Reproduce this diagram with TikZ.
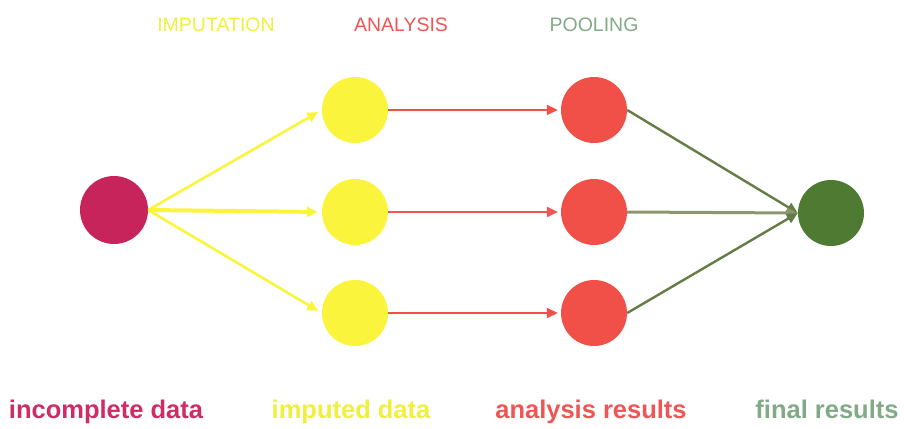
\documentclass[tikz,border=0pt]{standalone}
\usepackage{fontspec}
\setmainfont{Liberation Sans}
\usetikzlibrary{arrows.meta}
\definecolor{cinc}{RGB}{200,36,92}
\definecolor{cyel}{RGB}{250,245,60}
\definecolor{cred}{RGB}{240,80,72}
\definecolor{cgrn}{RGB}{78,122,50}
\definecolor{tinc}{RGB}{205,45,100}
\definecolor{tyel}{RGB}{240,240,60}
\definecolor{tred}{RGB}{240,85,85}
\definecolor{tgrn}{RGB}{130,170,135}
\definecolor{lgrn}{RGB}{100,125,70}
\definecolor{mgrn}{RGB}{140,150,110}
\begin{document}
\begin{tikzpicture}[x=1pt,y=-1pt,
  dot/.style={circle,minimum size=66pt,inner sep=0pt,draw=none},
  toplab/.style={font=\fontsize{19.5}{22}\selectfont,anchor=center},
  botlab/.style={font=\bfseries\fontsize{25.5}{28}\selectfont,anchor=base},
  tip/.style={-{Triangle[length=11pt,width=10pt]}},
  yarr/.style={tip,draw=cyel,line width=2.6pt,shorten >=4pt},
  rarr/.style={tip,draw=cred,line width=2pt,shorten >=3pt},
  garr/.style={tip,draw=lgrn,line width=2.4pt}]
\useasboundingbox (0,0) rectangle (904,428);
\node[dot,fill=cinc,minimum size=68pt] (inc) at (114,210) {};
\node[dot,fill=cyel] (y1) at (355,110) {};
\node[dot,fill=cyel] (y2) at (355,212) {};
\node[dot,fill=cyel] (y3) at (355,313) {};
\node[dot,fill=cred] (r1) at (594,110) {};
\node[dot,fill=cred] (r2) at (594,212) {};
\node[dot,fill=cred] (r3) at (594,313) {};
\node[dot,fill=cgrn] (fin) at (831,213) {};
\draw[yarr] (inc.east) -- (y1.west);
\draw[yarr,line width=4pt] (inc.east) -- (y2.west);
\draw[yarr] (inc.east) -- (y3.west);
\draw[rarr] (y1.east) -- (r1.west);
\draw[rarr,draw=tred,line width=2.6pt] (y2.east) -- (r2.west);
\draw[rarr] (y3.east) -- (r3.west);
\draw[garr] (r1.east) -- (fin.west);
\draw[garr,draw=mgrn,line width=3pt] (r2.east) -- (fin.west);
\draw[garr] (r3.east) -- (fin.west);
\node[toplab,text=tyel] (t1) at (216,25) {IMPUTATION};
\node[toplab,text=tred] (t2) at (401,25) {ANALYSIS};
\node[toplab,text=tgrn] (t3) at (594,25) {POOLING};
\node[botlab,text=tinc] (b1) at (106,418) {incomplete data};
\node[botlab,text=tyel] (b2) at (351,418) {imputed data};
\node[botlab,text=tred] (b3) at (591,418) {analysis results};
\node[botlab,text=tgrn] (b4) at (827,418) {final results};
\end{tikzpicture}
\end{document}
